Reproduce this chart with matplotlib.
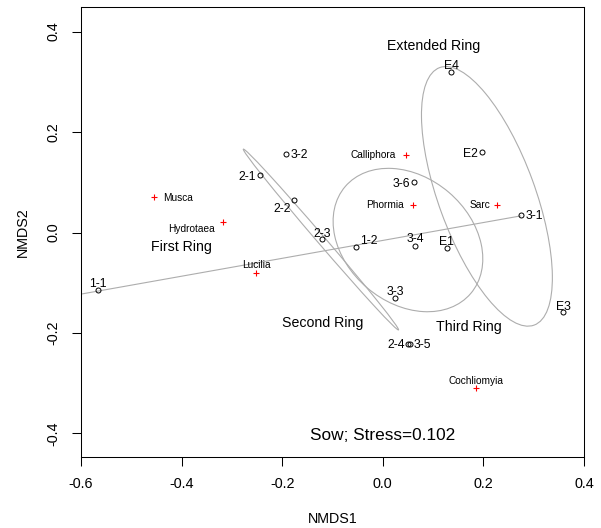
import numpy as np
import matplotlib.pyplot as plt
from matplotlib.patches import Ellipse

plt.rcParams['font.family'] = ['Liberation Sans', 'DejaVu Sans']
plt.rcParams['axes.unicode_minus'] = False

# site scores (NMDS1, NMDS2)
site_names = ['1-1', '1-2', '2-1', '2-2', '2-3', '2-4', '3-1', '3-2',
              '3-3', '3-4', '3-5', '3-6', 'E1', 'E2', 'E3', 'E4']
site_x = [-0.567, -0.053, -0.244, -0.176, -0.120, 0.050, 0.275, -0.192,
          0.024, 0.065, 0.055, 0.063, 0.128, 0.197, 0.359, 0.136]
site_y = [-0.114, -0.028, 0.114, 0.065, -0.013, -0.222, 0.035, 0.157,
          -0.131, -0.026, -0.222, 0.100, -0.031, 0.160, -0.159, 0.319]

# species scores
sp_names = ['Musca', 'Hydrotaea', 'Lucilia', 'Calliphora', 'Phormia', 'Sarc', 'Cochliomyia']
sp_x = [-0.455, -0.317, -0.252, 0.047, 0.061, 0.228, 0.186]
sp_y = [0.070, 0.021, -0.080, 0.155, 0.055, 0.055, -0.310]

# ring ellipses: centre, semi axes, angle
ring_names = ['First Ring', 'Second Ring', 'Third Ring', 'Extended Ring']
ring_cx = [-0.310, -0.123, 0.050, 0.207]
ring_cy = [-0.071, -0.014, -0.015, 0.072]
ring_a = [0.593, 0.237, 0.164, 0.273]
ring_b = [0.0, 0.008, 0.125, 0.096]
ring_angle = [10.1, -49.4, -40.5, -69.9]
ring_lab_x = [-0.400, -0.120, 0.171, 0.101]
ring_lab_y = [-0.036, -0.188, -0.196, 0.3635]

stress = 0.102

# label offsets in pixels (dx, dy to baseline, ha)
site_off = {'1-1': (0, 2.5, 'center'), '1-2': (4, 2.4, 'left'), '2-1': (-4.5, -4.4, 'right'),
            '2-2': (-3, -12.5, 'right'), '2-3': (0, 2.2, 'center'), '2-4': (-3.4, -4.4, 'right'),
            '3-1': (4.3, -4.4, 'left'), '3-2': (4.3, -4.4, 'left'), '3-3': (0, 3, 'center'),
            '3-4': (0, 3.2, 'center'), '3-5': (3, -4.4, 'left'), '3-6': (-4.7, -4.4, 'right'),
            'E1': (-1, 3, 'center'), 'E2': (-4.4, -4.4, 'right'), 'E3': (0, 2.4, 'center'),
            'E4': (0, 3.3, 'center')}
sp_off = {'Musca': (8.7, -3.6, 'left'), 'Hydrotaea': (-8.3, -10.3, 'right'),
          'Lucilia': (0, 4.2, 'center'), 'Calliphora': (-11, -3.6, 'right'),
          'Phormia': (-10, -3.6, 'right'), 'Sarc': (-7, -3.6, 'right'),
          'Cochliomyia': (0, 4.2, 'center')}

fig = plt.figure(figsize=(6.01, 5.28), dpi=100)
ax = fig.add_axes([81/601, 1-457/528, 503/601, 450/528])

gray = '#ADADAD'
for i in range(len(ring_names)):
    if ring_b[i] == 0:
        t = np.deg2rad(ring_angle[i])
        ax.plot([ring_cx[i] - ring_a[i]*np.cos(t), ring_cx[i] + ring_a[i]*np.cos(t)],
                [ring_cy[i] - ring_a[i]*np.sin(t), ring_cy[i] + ring_a[i]*np.sin(t)],
                color=gray, lw=0.8, zorder=1)
    else:
        ax.add_patch(Ellipse((ring_cx[i], ring_cy[i]), 2*ring_a[i], 2*ring_b[i],
                             angle=ring_angle[i], fill=False, ec=gray, lw=0.8, zorder=1))
    ax.text(ring_lab_x[i], ring_lab_y[i], ring_names[i], fontsize=10.2,
            ha='center', va='baseline')

ax.plot(site_x, site_y, 'o', mfc='none', mec='black', ms=3.6, mew=0.7, zorder=3)
ax.plot(sp_x, sp_y, '+', color='red', ms=4, mew=0.8, zorder=3)

for n, x, y in zip(site_names, site_x, site_y):
    dx, dy, ha = site_off[n]
    ax.annotate(n, (x, y), xytext=(dx, dy), textcoords='offset pixels',
                ha=ha, va='baseline', fontsize=8.8)
for n, x, y in zip(sp_names, sp_x, sp_y):
    dx, dy, ha = sp_off[n]
    ax.annotate(n, (x, y), xytext=(dx, dy), textcoords='offset pixels',
                ha=ha, va='baseline', fontsize=7.3)

ax.text(0.0, -0.4127, 'Sow; Stress=%.3f' % stress, fontsize=12.4, ha='center', va='baseline')

ax.set_xlim(-0.6, 0.4)
ax.set_ylim(-0.447, 0.449)
ax.set_xticks([-0.6, -0.4, -0.2, 0.0, 0.2, 0.4])
ax.set_xticklabels(['-0.6', '-0.4', '-0.2', '0.0', '0.2', '0.4'])
ax.set_yticks([-0.4, -0.2, 0.0, 0.2, 0.4])
ax.set_yticklabels(['-0.4', '-0.2', '0.0', '0.2', '0.4'])
plt.setp(ax.get_yticklabels(), rotation=90, va='center')
ax.tick_params(length=6.5, width=0.75, pad=8, labelsize=10.4, direction='out')
for s in ax.spines.values():
    s.set_linewidth(0.75)

ax.set_xlabel('NMDS1', fontsize=10.3)
ax.xaxis.set_label_coords(0.5, -0.1467)
ax.xaxis.label.set_va('baseline')
ax.set_ylabel('NMDS2', fontsize=10.3)
ax.yaxis.set_label_coords(-0.1153, 0.5)
ax.yaxis.label.set_va('center')

fig.savefig('out.png', dpi=100)
